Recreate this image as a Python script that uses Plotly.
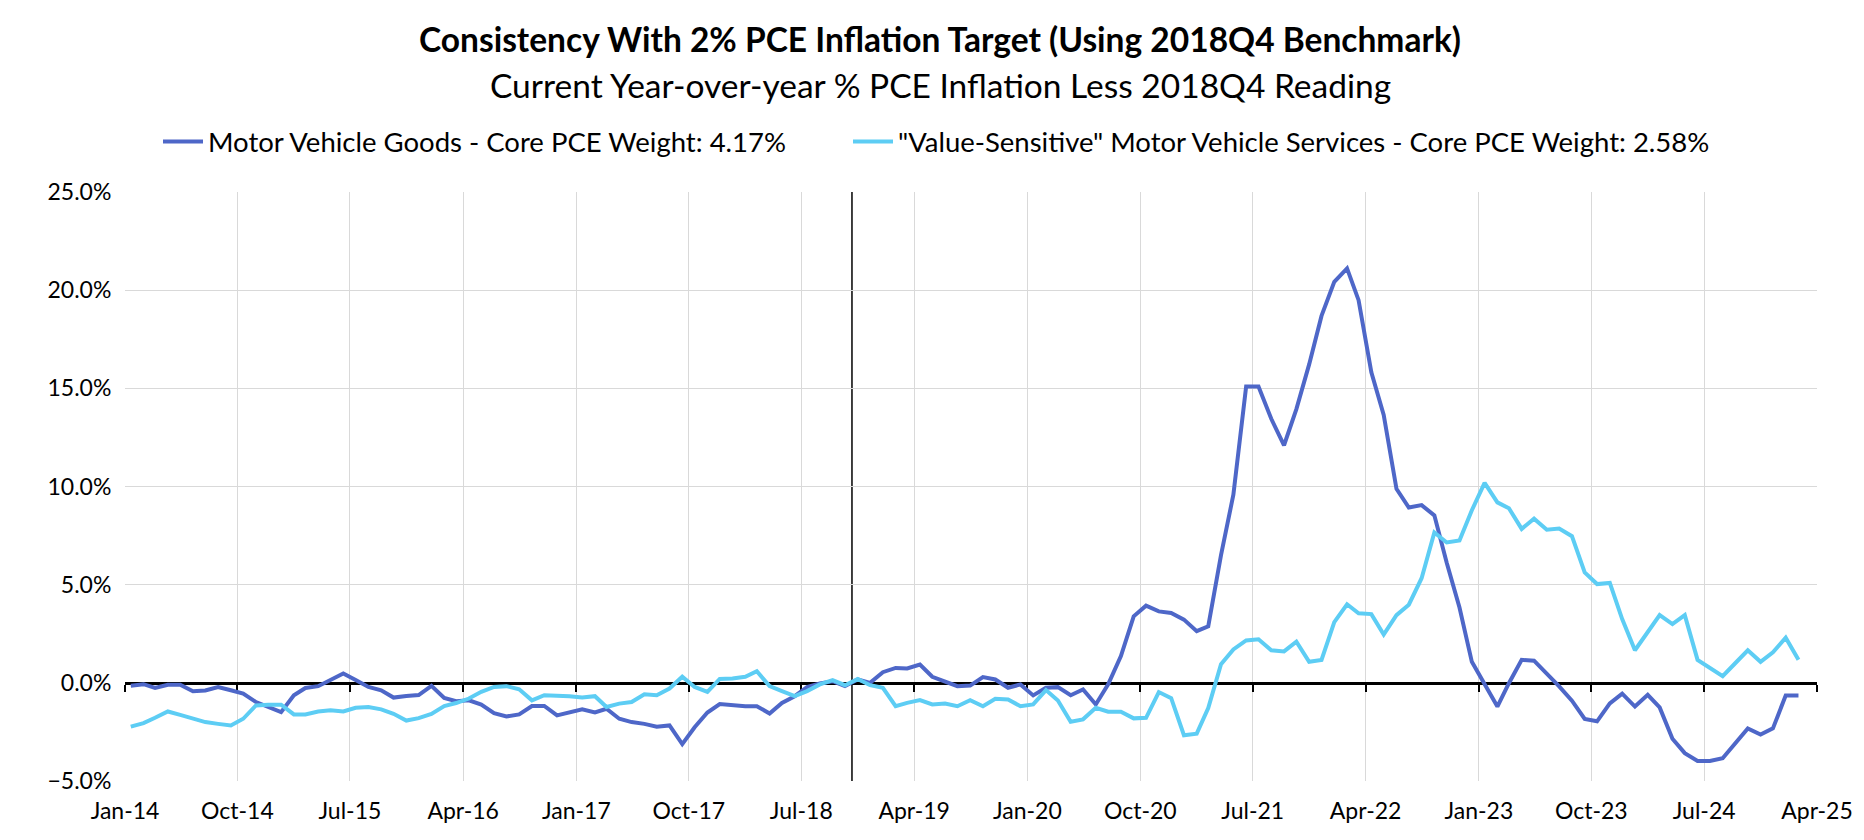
import pandas as pd
import plotly.graph_objects as go

# ---------------- data (percentage points, monthly from Jan-2014) ----------------
goods = [-0.15, -0.07, -0.26, -0.10, -0.10, -0.43, -0.39, -0.21, -0.38, -0.55,
         -0.98, -1.23, -1.49, -0.63, -0.26, -0.17, 0.17, 0.48, 0.14, -0.21,
         -0.38, -0.75, -0.67, -0.62, -0.15, -0.77, -0.94, -0.89, -1.11, -1.54,
         -1.71, -1.61, -1.18, -1.18, -1.66, -1.52, -1.35, -1.51, -1.32, -1.83,
         -2.00, -2.09, -2.23, -2.17, -3.12, -2.26, -1.51, -1.08, -1.14, -1.19,
         -1.19, -1.56, -1.02, -0.68, -0.22, -0.03, 0.08, -0.17, 0.17, 0.00,
         0.54, 0.76, 0.73, 0.93, 0.31, 0.08, -0.17, -0.14, 0.29, 0.17,
         -0.25, -0.08, -0.64, -0.25, -0.22, -0.63, -0.34, -1.10, -0.08, 1.36,
         3.39, 3.93, 3.64, 3.56, 3.22, 2.63, 2.88, 6.50, 9.58, 15.09,
         15.09, 13.45, 12.10, 13.94, 16.22, 18.69, 20.42, 21.11, 19.49, 15.82,
         13.64, 9.88, 8.93, 9.05, 8.53, 6.12, 3.84, 1.07, -0.12, -1.21,
         -0.02, 1.17, 1.13, 0.48, -0.18, -0.91, -1.84, -1.96, -1.05, -0.55,
         -1.21, -0.61, -1.25, -2.85, -3.58, -3.98, -3.98, -3.84, -3.09, -2.32,
         -2.63, -2.32, -0.65, -0.65]

services = [-2.23, -2.05, -1.78, -1.46, -1.63, -1.80, -2.00, -2.09, -2.17, -1.83,
            -1.15, -1.11, -1.11, -1.61, -1.61, -1.46, -1.40, -1.46, -1.27, -1.23,
            -1.35, -1.58, -1.92, -1.80, -1.58, -1.18, -1.03, -0.80, -0.46, -0.21,
            -0.17, -0.33, -0.89, -0.63, -0.63, -0.68, -0.75, -0.68, -1.23, -1.06,
            -0.98, -0.58, -0.63, -0.29, 0.31, -0.21, -0.46, 0.20, 0.22, 0.31,
            0.59, -0.17, -0.42, -0.68, -0.42, -0.08, 0.14, -0.12, 0.20, -0.12,
            -0.25, -1.19, -1.02, -0.88, -1.10, -1.05, -1.19, -0.88, -1.19, -0.81,
            -0.85, -1.19, -1.10, -0.37, -0.90, -1.98, -1.86, -1.27, -1.47, -1.47,
            -1.81, -1.78, -0.47, -0.78, -2.67, -2.59, -1.28, 0.95, 1.70, 2.16,
            2.22, 1.66, 1.60, 2.10, 1.07, 1.17, 3.09, 4.00, 3.54, 3.50,
            2.46, 3.45, 3.98, 5.33, 7.66, 7.15, 7.25, 8.79, 10.18, 9.19,
            8.89, 7.84, 8.36, 7.80, 7.86, 7.47, 5.62, 5.03, 5.09, 3.25,
            1.66, 2.55, 3.45, 2.99, 3.45, 1.17, 0.77, 0.34, 1.01, 1.66,
            1.07, 1.56, 2.30, 1.17]

series_names = ["Motor Vehicle Goods - Core PCE Weight: 4.17%",
                "\"Value-Sensitive\" Motor Vehicle Services - Core PCE Weight: 2.58%"]
start_month = "2014-01-01"
axis_start = "2014-01-01"
axis_end = "2025-04-01"
benchmark_date = "2018-11-01"
y_min, y_max, y_step = -5, 25, 5

title_text = "Consistency With 2% PCE Inflation Target (Using 2018Q4 Benchmark)"
subtitle_text = "Current Year-over-year % PCE Inflation Less 2018Q4 Reading"

# ---------------- figure ----------------
dates = pd.date_range(start_month, periods=len(goods), freq="MS") + pd.Timedelta(days=14)

W, H = 1864, 840
ML, MR, MT, MB = 117, 55, 184, 67
PW, PH = W - ML - MR, H - MT - MB
FONT = "Lato"
DARK = "#4E67C8"
LIGHT = "#5DCDF4"
GRID = "#D9D9D9"


def px_x(px):
    return (px - ML) / PW


def px_y(py):
    return (H - MB - py) / PH


fig = go.Figure()
fig.add_trace(go.Scatter(x=dates, y=goods, mode="lines", name=series_names[0],
                         line=dict(color=DARK, width=4), legend="legend"))
fig.add_trace(go.Scatter(x=dates, y=services, mode="lines", name=series_names[1],
                         line=dict(color=LIGHT, width=4), legend="legend2"))
# carrier for the zero-level axis (ticks on the 0% line)
fig.add_trace(go.Scatter(x=[dates[0]], y=[None], xaxis="x2", mode="lines",
                         showlegend=False, hoverinfo="skip"))

zero_pos = (0 - y_min) / (y_max - y_min)
legend_font = dict(family=FONT, size=27.5, color="black")

fig.update_layout(
    width=W, height=H,
    margin=dict(l=ML, r=MR, t=MT, b=MB),
    paper_bgcolor="white", plot_bgcolor="white",
    font=dict(family=FONT, color="black", size=23),
    title=dict(text="<b>" + title_text + "</b>", x=0.5, xref="container", xanchor="center",
               y=1 - 32.5 / H, yref="container", yanchor="middle",
               font=dict(family=FONT, size=33.5, color="black")),
    showlegend=True,
    legend=dict(orientation="h", x=px_x(150), xanchor="left", y=px_y(133.5), yanchor="middle",
                font=legend_font, bgcolor="rgba(0,0,0,0)", itemwidth=40),
    legend2=dict(orientation="h", x=px_x(840), xanchor="left", y=px_y(133.5), yanchor="middle",
                 font=legend_font, bgcolor="rgba(0,0,0,0)", itemwidth=40),
    xaxis=dict(type="date", range=[axis_start, axis_end], tick0=axis_start, dtick="M9",
               tickformat="%b-%y", showgrid=True, gridcolor=GRID, gridwidth=1.4,
               showline=False, zeroline=False, ticks="outside", ticklen=9,
               tickcolor="rgba(0,0,0,0)", tickfont=dict(family=FONT, size=23, color="black")),
    xaxis2=dict(type="date", overlaying="x", anchor="free", position=zero_pos,
                range=[axis_start, axis_end], tick0=axis_start, dtick="M9",
                showgrid=False, zeroline=False, showline=True, linecolor="black", linewidth=2.5,
                ticks="outside", ticklen=7, tickwidth=2, tickcolor="black",
                showticklabels=False, layer="below traces"),
    yaxis=dict(range=[y_min, y_max], dtick=y_step, tick0=0, tickformat=".1f", ticksuffix="%",
               showgrid=True, gridcolor=GRID, gridwidth=1.4, zeroline=False, showline=False,
               ticks="outside", ticklen=8, tickcolor="rgba(0,0,0,0)",
               tickfont=dict(family=FONT, size=23, color="black")),
)

fig.add_shape(type="line", xref="x", yref="y", x0=benchmark_date, x1=benchmark_date,
              y0=y_min, y1=y_max, line=dict(color="black", width=1.5), layer="below")

fig.add_annotation(text=subtitle_text, xref="paper", yref="paper", x=px_x(W / 2),
                   y=px_y(76.5), xanchor="center", yanchor="middle",
                   showarrow=False, font=dict(family=FONT, size=33.5, color="black"))

fig.write_html("out.html")
